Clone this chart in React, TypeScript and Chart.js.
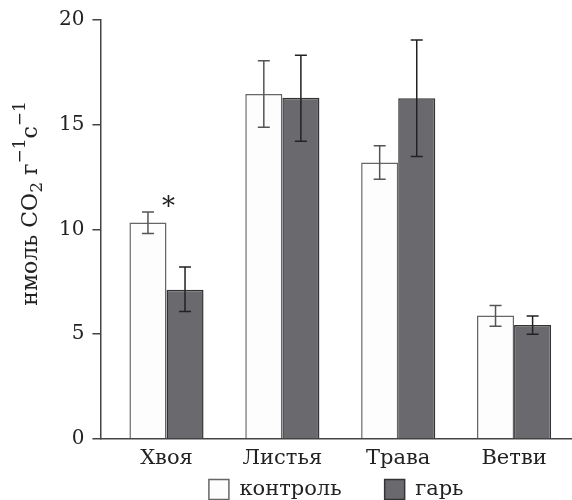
import React, { useEffect, useRef } from "react";
import { Chart, registerables } from "chart.js";

Chart.register(...registerables);

const categories = ["Хвоя", "Листья", "Трава", "Ветви"];
const seriesNames = ["контроль", "гарь"];
const control = [10.33, 16.47, 13.19, 5.89];
const controlLow = [9.81, 14.88, 12.39, 5.38];
const controlHigh = [10.83, 18.05, 14.0, 6.37];
const burn = [7.12, 16.29, 16.26, 5.44];
const burnLow = [6.08, 14.21, 13.48, 4.99];
const burnHigh = [8.2, 18.32, 19.04, 5.86];
const significance = ["*", "", "", ""];
const yTicks = [0, 5, 10, 15, 20];
// y-axis title pieces: [text, kind] where kind: n = normal, sub, sup
const yTitleParts: [string, string][] = [
  ["нмоль CO", "n"],
  ["2", "sub"],
  [" г", "n"],
  ["\u22121", "sup"],
  ["с", "n"],
  ["\u22121", "sup"],
];

const FONT = "'DejaVu Serif', serif";

const errorBarPlugin = {
  id: "errorBars",
  afterDatasetsDraw(chart: any) {
    const ctx = chart.ctx;
    const y = chart.scales.y;
    const lows = [controlLow, burnLow];
    const highs = [controlHigh, burnHigh];
    const colors = ["#555", "#222"];
    ctx.save();
    chart.data.datasets.forEach((_: any, di: number) => {
      const meta = chart.getDatasetMeta(di);
      meta.data.forEach((el: any, i: number) => {
        const x = el.x;
        const yl = y.getPixelForValue(lows[di][i]);
        const yh = y.getPixelForValue(highs[di][i]);
        ctx.strokeStyle = colors[di];
        ctx.lineWidth = 1.5;
        ctx.beginPath();
        ctx.moveTo(x, yl);
        ctx.lineTo(x, yh);
        ctx.moveTo(x - 6, yl);
        ctx.lineTo(x + 6, yl);
        ctx.moveTo(x - 6, yh);
        ctx.lineTo(x + 6, yh);
        ctx.stroke();
      });
    });
    const meta0 = chart.getDatasetMeta(0);
    ctx.fillStyle = "#222";
    ctx.font = `26px ${FONT}`;
    ctx.textAlign = "center";
    ctx.textBaseline = "middle";
    significance.forEach((s, i) => {
      if (!s) return;
      const el = meta0.data[i];
      const x = el.x + el.width / 2 + 2;
      const yy = y.getPixelForValue(controlHigh[i]) - 4;
      ctx.fillText(s, x, yy);
    });
    ctx.restore();
  },
};

const yTitlePlugin = {
  id: "yTitle",
  afterDraw(chart: any) {
    const ctx = chart.ctx;
    const area = chart.chartArea;
    const mainSize = 22;
    const smallSize = 17;
    const fontFor = (k: string) => `${k === "n" ? mainSize : smallSize}px ${FONT}`;
    ctx.save();
    let total = 0;
    yTitleParts.forEach(([t, k]) => {
      ctx.font = fontFor(k);
      total += ctx.measureText(t).width;
    });
    const cy = (area.top + area.bottom) / 2 - 26;
    const baseX = 37;
    ctx.translate(baseX, cy);
    ctx.rotate(-Math.PI / 2);
    ctx.fillStyle = "#222";
    ctx.textAlign = "left";
    ctx.textBaseline = "alphabetic";
    let x = -total / 2;
    yTitleParts.forEach(([t, k]) => {
      ctx.font = fontFor(k);
      const dy = k === "sub" ? 5 : k === "sup" ? -12 : 0;
      ctx.fillText(t, x, dy);
      x += ctx.measureText(t).width;
    });
    ctx.restore();
  },
};

export default function App() {
  const ref = useRef<HTMLCanvasElement | null>(null);
  useEffect(() => {
    if (!ref.current) return;
    const chart = new Chart(ref.current, {
      type: "bar",
      data: {
        datasets: [
          {
            label: seriesNames[0] + "\u2003\u2003",
            data: control.map((v, i) => ({ x: i, y: v })),
            backgroundColor: "#fdfdfd",
            borderColor: "#666",
            borderWidth: 1.5,
          },
          {
            label: seriesNames[1],
            data: burn.map((v, i) => ({ x: i, y: v })),
            backgroundColor: "#6a6a6e",
            borderColor: "#333",
            borderWidth: 1.5,
          },
        ],
      } as any,
      options: {
        responsive: false,
        animation: false,
        layout: { padding: { top: 10, right: 0, left: 51, bottom: -10 } },
        datasets: {
          bar: { categoryPercentage: 0.64, barPercentage: 1 },
        } as any,
        plugins: {
          legend: {
            position: "bottom",
            fullSize: false,
            labels: {
              boxWidth: 20,
              boxHeight: 20,
              padding: 1,
              color: "#222",
              font: { family: FONT, size: 21 },
            },
          },
          tooltip: { enabled: false },
        },
        scales: {
          x: {
            type: "linear",
            min: -0.57,
            max: 3.5,
            offset: false,
            grid: { display: false, drawTicks: false },
            border: { display: true, color: "#444", width: 1.5 },
            afterBuildTicks: (scale: any) => {
              scale.ticks = categories.map((_, i) => ({ value: i }));
            },
            ticks: {
              autoSkip: false,
              maxRotation: 0,
              padding: 7,
              color: "#222",
              font: { family: FONT, size: 21 },
              callback: (v: any) => categories[v as number],
            },
          },
          y: {
            min: 0,
            max: 20,
            afterBuildTicks: (scale: any) => {
              scale.ticks = yTicks.map((v) => ({ value: v }));
            },
            grid: {
              drawOnChartArea: false,
              drawTicks: true,
              tickLength: 8,
              color: "#444",
              lineWidth: 1.5,
            },
            border: { display: true, color: "#444", width: 1.5 },
            ticks: {
              padding: 8,
              color: "#222",
              font: { family: FONT, size: 20 },
            },
          },
        },
      } as any,
      plugins: [errorBarPlugin, yTitlePlugin],
    });
    return () => chart.destroy();
  }, []);
  return (
    <div style={{ position: "absolute", left: 0, top: 0, width: 572, height: 500, background: "#fff" }}>
      <canvas ref={ref} width={572} height={500} />
    </div>
  );
}
